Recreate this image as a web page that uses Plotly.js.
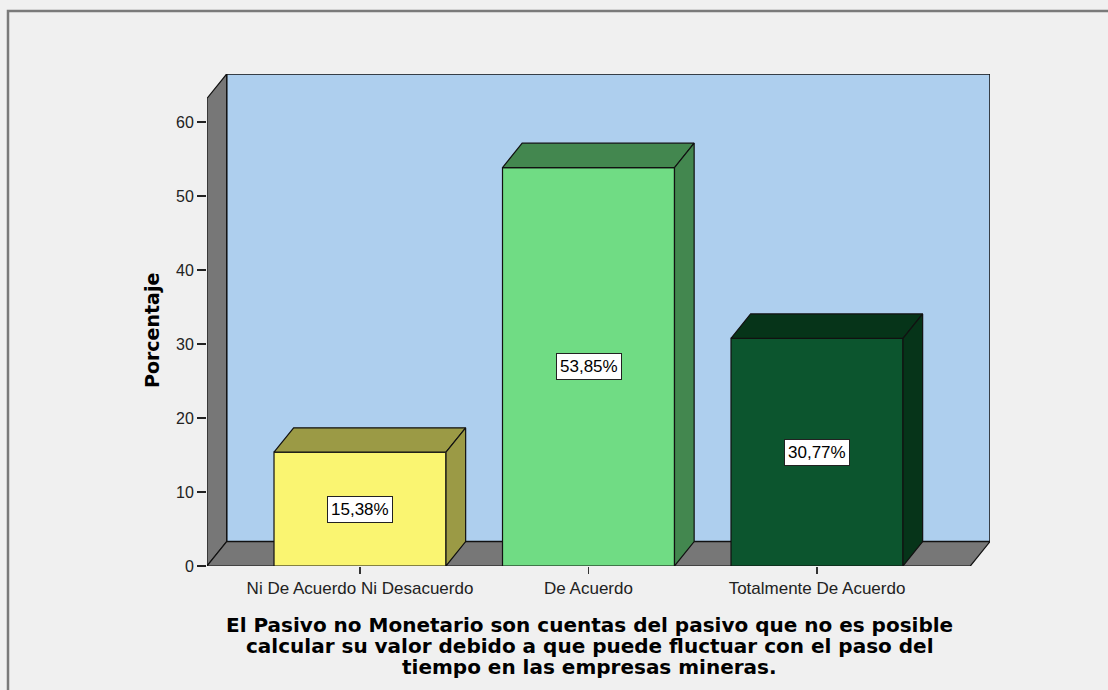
<!DOCTYPE html>
<html>
<head>
<meta charset="utf-8">
<script src="https://cdn.plot.ly/plotly-3.0.1.min.js"></script>
<style>html,body{margin:0;padding:0;background:#f0f0f0;}#chart{width:1108px;height:690px;}</style>
</head>
<body>
<div id="chart"></div>
<script>
// ---- data ----
const categories = ["Ni De Acuerdo Ni Desacuerdo", "De Acuerdo", "Totalmente De Acuerdo"];
const percentages = [15.38, 53.85, 30.77];
const yTickValues = [0, 10, 20, 30, 40, 50, 60];
const yTitle = "Porcentaje";
const xTitleLines = [
  "El Pasivo no Monetario son cuentas del pasivo que no es posible",
  "calcular su valor debido a que puede fluctuar con el paso del",
  "tiempo en las empresas mineras."
];

// ---- style ----
const frontColors = ["#FAF571", "#70DC84", "#0C552E"];
const sideColors  = ["#9B9A45", "#43874F", "#063419"];
const wallColor = "#AECFEE";
const sideWallColor = "#777777";
const edge = "#111111";

const xPos = categories.map((_, i) => i);
const barWidth = 0.7527;
const hw = barWidth / 2;
const dx = 0.086;   // depth in x units
const dy = 3.3;     // depth in y units
const xMin = -0.6696, xMax = 2.7571;
const yMax = 66.5;

const traces = [];
function poly(xs, ys, fill, lw) {
  traces.push({type: 'scatter', mode: 'lines', x: xs.concat([xs[0]]), y: ys.concat([ys[0]]),
    fill: 'toself', fillcolor: fill, line: {color: edge, width: lw || 1.2},
    hoverinfo: 'skip', showlegend: false});
}
function pathShape(xs, ys, fill, lw) {
  let d = 'M ' + xs.map((x, k) => x + ',' + ys[k]).join(' L ') + ' Z';
  return {type: 'path', xref: 'x', yref: 'y', path: d, fillcolor: fill,
    line: {color: edge, width: lw || 1.2}, layer: 'below'};
}

// bars fronts
traces.push({type: 'bar', x: xPos, y: percentages, width: barWidth,
  marker: {color: frontColors, line: {color: edge, width: 1.2}},
  hoverinfo: 'skip', showlegend: false});
// bar tops and sides
percentages.forEach((v, i) => {
  poly([i - hw, i - hw + dx, i + hw + dx, i + hw], [v, v + dy, v + dy, v], sideColors[i]);
  poly([i + hw, i + hw, i + hw + dx, i + hw + dx], [0, v, v + dy, dy], sideColors[i]);
});

const annotations = percentages.map((v, i) => ({
  x: i, y: v / 2, xref: 'x', yref: 'y', showarrow: false,
  text: v.toFixed(2).replace('.', ',') + '%',
  font: {family: 'Liberation Sans, Arial, sans-serif', size: 17, color: '#000'},
  bgcolor: '#ffffff', bordercolor: '#222', borderwidth: 1, borderpad: 3
}));

const L = 207, T = 74, W = 783, H = 492;
const px2x = p => (p - L) / W;
const px2y = p => (T + H - p) / H;

annotations.push({
  xref: 'paper', yref: 'paper', x: px2x(152), y: px2y(331), xanchor: 'center', yanchor: 'middle',
  showarrow: false, text: '<b>' + yTitle + '</b>', textangle: -90,
  font: {family: 'DejaVu Sans, sans-serif', size: 19, color: '#000'}
});
const lineY = [625, 646, 667];
xTitleLines.forEach((t, k) => annotations.push({
  xref: 'paper', yref: 'paper', x: px2x(589.5), y: px2y(lineY[k]), xanchor: 'center', yanchor: 'middle',
  showarrow: false, text: '<b>' + t + '</b>',
  font: {family: 'DejaVu Sans, sans-serif', size: 20, color: '#000'}
}));

const shapes = [
  pathShape([xMin + dx, xMax, xMax, xMin + dx], [dy, dy, yMax, yMax], wallColor, 1.5),
  pathShape([xMin, xMin, xMin + dx, xMin + dx], [0, yMax - dy, yMax, dy], sideWallColor, 1.2),
  pathShape([xMin, xMax - dx, xMax, xMin + dx], [0, 0, dy, dy], sideWallColor, 1.2),
  {type: 'rect', xref: 'paper', yref: 'paper',
    x0: px2x(8), x1: px2x(1130), y0: px2y(720), y1: px2y(11),
    line: {color: '#7a7a7a', width: 2.5}, fillcolor: 'rgba(0,0,0,0)', layer: 'below'}
];

const layout = {
  width: 1108, height: 690,
  paper_bgcolor: '#f0f0f0', plot_bgcolor: 'rgba(0,0,0,0)',
  margin: {l: L, r: 1108 - L - W, t: T, b: 690 - T - H, pad: 0},
  showlegend: false,
  xaxis: {range: [xMin, xMax], tickvals: xPos, ticktext: categories, ticks: 'outside',
    ticklen: 7, tickwidth: 1.5, tickcolor: '#333', showgrid: false, zeroline: false, showline: false,
    tickfont: {family: 'Liberation Sans, Arial, sans-serif', size: 17, color: '#222'}, fixedrange: true},
  yaxis: {range: [0, yMax], tickvals: yTickValues, ticks: 'outside', ticklen: 9, tickwidth: 1.5,
    tickcolor: '#222', showgrid: false, zeroline: false, showline: false,
    tickfont: {family: 'Liberation Sans, Arial, sans-serif', size: 16, color: '#222'}, fixedrange: true},
  annotations: annotations,
  shapes: shapes
};

Plotly.newPlot('chart', traces, layout, {staticPlot: true, displayModeBar: false});
</script>
</body>
</html>
